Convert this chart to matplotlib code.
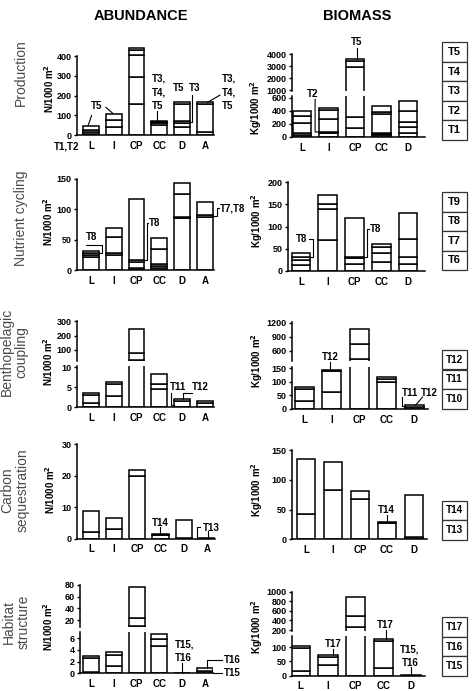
import matplotlib
matplotlib.use('Agg')
import matplotlib.pyplot as plt
from matplotlib.patches import Rectangle

plt.rcParams['font.family'] = ['Liberation Sans', 'DejaVu Sans']

W, H = 472, 691

# ---------------- data ----------------
cats_abund = ['L', 'I', 'CP', 'CC', 'D', 'A']
cats_biom = ['L', 'I', 'CP', 'CC', 'D']

# cumulative stack boundaries (bottom -> top) for each category
prod_abund = [[8, 18, 28, 47], [40, 75, 108], [158, 292, 405, 430, 440],
              [50, 62, 68, 74], [40, 62, 74, 156, 166], [18, 160, 168]]
prod_biom = [[30, 56, 208, 320, 402], [56, 81, 275, 412, 437],
             [142, 300, 2960, 3440, 3580], [30, 46, 66, 346, 386, 473],
             [66, 153, 234, 402, 554]]
nutr_abund = [[21, 25, 28, 31], [25, 28, 54, 70], [4, 14, 17, 117],
              [3, 7, 10, 34, 52], [85, 88, 125, 143], [87, 90, 112]]
nutr_biom = [[13, 25, 31, 41], [70, 140, 150, 172], [15, 29, 32, 119],
             [21, 41, 53, 62], [16, 32, 72, 130]]
bent_abund = [[1.0, 3.1, 3.5], [2.8, 5.8, 6.3], [32, 82, 242],
              [4.6, 5.75, 8.25], [1.6, 2.2], [1.0, 1.7]]
bent_biom = [[29, 72, 80], [61, 141, 144], [425, 750, 1070],
             [99, 112, 119], [8, 13]]
carb_abund = [[2.2, 8.7], [3.0, 6.5], [20, 21.8], [1.2, 1.4], [0.3, 6.1], [0.1]]
carb_biom = [[42.5, 135.5], [82, 130.5], [68, 81], [27, 29], [4.5, 74]]
hab_abund = [[0.3, 2.6, 3.0], [1.26, 3.14, 3.6], [9.7, 23, 76],
             [4.7, 5.8, 6.74], [0.1], [0.46, 0.86]]
hab_biom = [[17.6, 98, 105], [39, 67, 73], [270, 500, 885],
            [28, 123.5, 129.4], [3]]

legend_groups = [['T5', 'T4', 'T3', 'T2', 'T1'], ['T9', 'T8', 'T7', 'T6'],
                 ['T12', 'T11', 'T10'], ['T14', 'T13'], ['T17', 'T16', 'T15']]
row_labels = ['Production', 'Nutrient cycling', 'Benthopelagic\ncoupling',
              'Carbon\nsequestration', 'Habitat\nstructure']
col_titles = ['ABUNDANCE', 'BIOMASS']
ab_unit = 'N/1000 m$^\\mathbf{2}$'
bm_unit = 'Kg/1000 m$^\\mathbf{2}$'

# ---------------- drawing helpers ----------------
fig = plt.figure(figsize=(W / 100, H / 100), dpi=100)
LW = 1.1
BW = 0.7


def add_ax(box):
    l, t, r, b = box
    return fig.add_axes([l / W, 1 - b / H, (r - l) / W, (b - t) / H])


def draw_stack(ax, stacks):
    for i, tops in enumerate(stacks):
        bottoms = [0] + tops[:-1]
        heights = [t - b for b, t in zip(bottoms, tops)]
        ax.bar([i] * len(tops), heights, bottom=bottoms, width=BW,
               facecolor='white', edgecolor='black', linewidth=LW, zorder=2)


def style_ax(ax, xlim, ylim, yticks, bounds, xlabels=None):
    ax.set_xlim(*xlim)
    ax.set_ylim(*ylim)
    for s in ['top', 'right']:
        ax.spines[s].set_visible(False)
    ax.spines['left'].set_linewidth(LW)
    ax.spines['left'].set_bounds(*bounds)
    ax.set_yticks(yticks)
    ax.set_yticklabels([str(v) for v in yticks], fontsize=6.5, fontweight='bold')
    ax.tick_params(axis='y', length=2.5, width=1, pad=1.5)
    if xlabels is None:
        ax.spines['bottom'].set_visible(False)
        ax.set_xticks([])
    else:
        ax.spines['bottom'].set_linewidth(LW)
        ax.set_xticks(range(len(xlabels)))
        ax.set_xticklabels(xlabels, fontsize=7, fontweight='bold')
        ax.tick_params(axis='x', length=0, pad=4)
    ax.patch.set_alpha(0)


def note(ax, text, tx, ty, line=None, ha='center', va='center'):
    ax.text(tx, ty, text, ha=ha, va=va, fontsize=7, fontweight='bold',
            clip_on=False, linespacing=1.45, zorder=5)
    if line:
        xs, ys = zip(*line)
        ax.plot(xs, ys, color='black', lw=0.8, clip_on=False, zorder=5)


def single(box, stacks, cats, xlim, ylim, yticks, bounds):
    ax = add_ax(box)
    draw_stack(ax, stacks)
    style_ax(ax, xlim, ylim, yticks, bounds, cats)
    return ax


def broken(box_up, box_lo, stacks, cats, xlim, ylim_up, ticks_up, bounds_up,
           ylim_lo, ticks_lo, bounds_lo):
    au = add_ax(box_up)
    draw_stack(au, stacks)
    style_ax(au, xlim, ylim_up, ticks_up, bounds_up, None)
    al = add_ax(box_lo)
    draw_stack(al, stacks)
    style_ax(al, xlim, ylim_lo, ticks_lo, bounds_lo, cats)
    return au, al


XA = (-0.61, 5.4)

# ---------------- Row 1: Production ----------------
a1 = single((77, 46.2, 214, 135.3), prod_abund, cats_abund, XA, (0, 450),
            [0, 100, 200, 300, 400], (0, 400))
note(a1, 'T5', 0.25, 150, [(0.03, 100), (-0.12, 50)])
a1.plot([0.66, 0.96], [141, 111], color='black', lw=0.8, clip_on=False)
note(a1, 'T3,\nT4,\nT5', 2.67, 216, [(2.9, 125), (2.9, 74)], ha='left')
note(a1, 'T5', 3.85, 237)
note(a1, 'T3', 4.55, 237, [(4.45, 203), (4.45, 69), (4.35, 69)])
note(a1, 'T3,\nT4,\nT5', 5.75, 216, [(5.66, 203), (5.1, 165)], ha='left')
note(a1, 'T1,T2', -1.06, -57)

b1u, b1l = broken((292, 53.1, 425, 91.2), (292, 96.4, 425, 137), prod_biom,
                  cats_biom, (-0.37, 4.64), (900, 4100),
                  [1000, 2000, 3000, 4000], (900, 4000), (0, 620),
                  [0, 200, 400, 600], (0, 620))
note(b1u, 'T5', 2.07, 5030, [(2.07, 4550), (2.07, 3580)])
note(b1l, 'T2', 0.41, 655, [(0.5, 576), (0.5, 75), (0.65, 81)])

# ---------------- Row 2: Nutrient cycling ----------------
a2 = single((77, 179, 214, 270), nutr_abund, cats_abund, XA, (0, 150),
            [0, 50, 100, 150], (0, 150))
note(a2, 'T8', 0.035, 55, [(-0.215, 41), (0.47, 41), (0.47, 27.5), (0.35, 27.5)])
note(a2, 'T8', 2.55, 77, [(2.52, 77), (2.45, 77), (2.45, 16), (2.35, 16)], ha='left')
note(a2, 'T7,T8', 5.66, 102, [(5.63, 102), (5.55, 102), (5.55, 89), (5.35, 89)], ha='left')

b2 = single((288, 182.3, 425, 271), nutr_biom, cats_biom, (-0.49, 4.64), (0, 200),
            [0, 50, 100, 150, 200], (0, 200))
note(b2, 'T8', 0.0, 71.5, [(0.28, 71.5), (0.44, 71.5), (0.44, 31), (0.35, 31)])
note(b2, 'T8', 2.56, 94, [(2.53, 94), (2.45, 94), (2.45, 32), (2.35, 32)], ha='left')

# ---------------- Row 3: Benthopelagic coupling ----------------
a3u, a3l = broken((77, 320.3, 214, 361), (77, 366.1, 214, 407.3), bent_abund,
                  cats_abund, XA, (24, 305), [100, 200, 300], (24, 300),
                  (0, 10.3), [0, 5, 10], (0, 10.3))
note(a3l, 'T11', 3.83, 5.0, [(3.5, 3.7), (3.5, 0.6), (3.65, 0.6)])
note(a3l, 'T12', 4.78, 5.0, [(4.45, 3.6), (4.05, 3.6), (4.05, 2.2)])

b3u, b3l = broken((292, 321.7, 428, 360.9), (292, 366.8, 428, 409), bent_biom,
                  cats_biom, (-0.45, 4.5), (390, 1220), [600, 900, 1200],
                  (390, 1220), (0, 155), [0, 50, 100, 150], (0, 155))
note(b3l, 'T12', 0.95, 192, [(0.95, 172), (0.95, 144)])
note(b3l, 'T11', 3.84, 58, [(3.55, 44), (3.55, 10), (3.66, 10)])
note(b3l, 'T12', 4.56, 58, [(4.3, 44), (4.05, 14)])

# ---------------- Row 4: Carbon sequestration ----------------
a4 = single((77, 444.3, 215, 538.7), carb_abund, cats_abund, (-0.6, 5.35), (0, 30),
            [0, 10, 20, 30], (0, 30))
note(a4, 'T14', 2.98, 4.9, [(3.0, 3.6), (3.0, 1.4)])
note(a4, 'T13', 5.2, 3.3, [(4.59, 0), (4.59, 3.8), (4.7, 3.8)])
a4.plot([5.06, 5.06], [2.3, 0.1], color='black', lw=0.8, clip_on=False)

b4 = single((292, 450, 427, 539.3), carb_biom, cats_biom, (-0.52, 4.48), (0, 150),
            [0, 50, 100, 150], (0, 150))
note(b4, 'T14', 2.99, 49, [(3.0, 41), (3.0, 29)])

# ---------------- Row 5: Habitat structure ----------------
a5u, a5l = broken((80, 583.8, 213, 626.8), (80, 631.8, 213, 673.3), hab_abund,
                  cats_abund, (-0.48, 5.35), (8.5, 82), [20, 40, 60, 80],
                  (8.5, 80), (0, 7.1), [0, 2, 4, 6], (0, 7.1))
note(a5l, 'T15,\nT16', 3.69, 3.7, [(3.98, 1.8), (3.98, 0.1)], ha='left')
note(a5l, 'T16', 5.81, 2.27, [(5.76, 2.27), (5.1, 2.27), (5.1, 0.86)], ha='left')
note(a5l, 'T15', 5.81, 0.1, [(5.76, 0.1), (5.35, 0.1)], ha='left')

b5u, b5l = broken((292, 590.7, 425, 630.8), (292, 635.9, 425, 675.7), hab_biom,
                  cats_biom, (-0.3, 4.5), (185, 1020),
                  [200, 400, 600, 800, 1000], (185, 1000), (0, 140),
                  [0, 50, 100], (0, 140))
note(b5l, 'T17', 1.19, 112, [(1.19, 93), (1.19, 73)])
note(b5l, 'T17', 3.08, 178, [(3.08, 161), (3.08, 129)])
note(b5l, 'T15,\nT16', 3.96, 67, [(4.0, 30), (4.0, 3)])

# ---------------- texts ----------------
fig.text(141 / W, 1 - 15.5 / H, col_titles[0], ha='center', va='center',
         fontsize=10.5, fontweight='bold')
fig.text(357 / W, 1 - 15.5 / H, col_titles[1], ha='center', va='center',
         fontsize=10.5, fontweight='bold')

row_pos = [(21, 73), (21, 218), (14, 352), (15, 490), (16, 622)]
for lab, (x, y) in zip(row_labels, row_pos):
    fig.text(x / W, 1 - y / H, lab, rotation=90, ha='center', va='center',
             fontsize=10, color='#4a4a4a', linespacing=1.1, multialignment='center')

ab_ylab = [(49, 89), (48, 222), (48, 362), (50, 490), (48, 627)]
bm_ylab = [(256, 108), (257, 221), (257, 361), (257, 490), (257, 627)]
for (x, y) in ab_ylab:
    fig.text(x / W, 1 - y / H, ab_unit, rotation=90, ha='center', va='center',
             fontsize=7, fontweight='bold')
for (x, y) in bm_ylab:
    fig.text(x / W, 1 - y / H, bm_unit, rotation=90, ha='center', va='center',
             fontsize=7, fontweight='bold')

# legend boxes
leg_tops = [42.3, 192, 350, 500.7, 617.3]
BOXH = 19.5
for grp, top in zip(legend_groups, leg_tops):
    for k, lab in enumerate(grp):
        t = top + k * BOXH
        fig.add_artist(Rectangle((441.5 / W, 1 - (t + BOXH) / H), 25 / W, BOXH / H,
                                 transform=fig.transFigure, facecolor='white',
                                 edgecolor='#333333', linewidth=0.9))
        fig.text(454 / W, 1 - (t + BOXH / 2) / H, lab, ha='center', va='center',
                 fontsize=8 if len(lab) == 2 else 7.2, fontweight='bold')

fig.savefig('out.png', dpi=100)
